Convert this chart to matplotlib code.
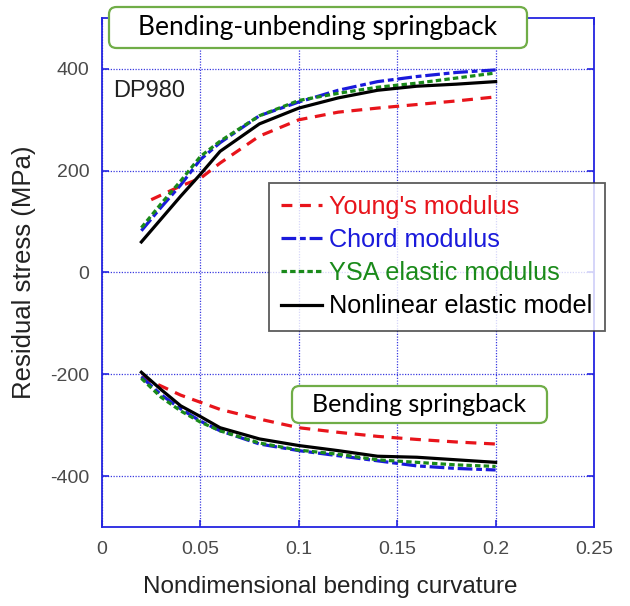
import numpy as np
import matplotlib.pyplot as plt
from matplotlib.patches import FancyBboxPatch

plt.rcParams['font.family'] = ['Liberation Sans', 'DejaVu Sans']
plt.rcParams['axes.unicode_minus'] = False

# curvature points
x_up = [0.02, 0.03, 0.04, 0.05, 0.06, 0.08, 0.10, 0.12, 0.14, 0.16, 0.18, 0.20]
x_red_up = [0.025, 0.03, 0.04, 0.05, 0.06, 0.08, 0.10, 0.12, 0.14, 0.16, 0.18, 0.20]
x_dn = [0.02, 0.03, 0.04, 0.05, 0.06, 0.08, 0.10, 0.12, 0.14, 0.16, 0.18, 0.20]

# bending-unbending springback (upper branch)
young_up = [143, 152, 170, 185, 215, 268, 300, 315, 323, 330, 337, 345]
chord_up = [82, 128, 172, 222, 255, 308, 335, 358, 375, 385, 393, 398]
ysa_up = [88, 135, 180, 228, 258, 308, 338, 352, 364, 372, 382, 392]
nonlin_up = [60, 105, 150, 193, 238, 292, 323, 343, 358, 366, 370, 375]

# bending springback (lower branch)
young_dn = [-205, -223, -241, -255, -269, -288, -305, -314, -322, -328, -333, -337]
chord_dn = [-205, -240, -268, -292, -311, -337, -350, -360, -370, -380, -385, -388]
ysa_dn = [-208, -245, -272, -294, -311, -335, -349, -357, -368, -373, -378, -381]
nonlin_dn = [-196, -230, -262, -283, -305, -327, -340, -350, -361, -363, -368, -373]

labels = ["Young's modulus", "Chord modulus", "YSA elastic modulus", "Nonlinear elastic model"]
colors = ['#e8141b', '#1a1adb', '#1a8a1a', 'black']

fig = plt.figure(figsize=(6.3, 6.06), dpi=100)
ax = fig.add_axes([0.1619, 0.1304, 0.781, 0.8399])

lw = 2.3
styles = [dict(dashes=(3.4, 2.4)), dict(dashes=(4.6, 1.2, 1.8, 1.2)),
          dict(dashes=(1.7, 1.0)), dict(linestyle='-')]

series = [(x_red_up, young_up, x_dn, young_dn),
          (x_up, chord_up, x_dn, chord_dn),
          (x_up, ysa_up, x_dn, ysa_dn),
          (x_up, nonlin_up, x_dn, nonlin_dn)]

handles = []
for (xu, yu, xd, yd), lab, c, st in zip(series, labels, colors, styles):
    h, = ax.plot(xu, yu, color=c, lw=lw, label=lab, **st)
    ax.plot(xd, yd, color=c, lw=lw, **st)
    handles.append(h)

ax.set_xlim(0, 0.25)
ax.set_ylim(-500, 500)
ax.set_xticks([0, 0.05, 0.1, 0.15, 0.2, 0.25])
ax.set_xticklabels(['0', '0.05', '0.1', '0.15', '0.2', '0.25'])
ax.set_yticks([-400, -200, 0, 200, 400])
ax.grid(True, color='#3a3ae0', linestyle=(0, (1, 1.2)), linewidth=0.9)

for s in ax.spines.values():
    s.set_color('#2424e0')
    s.set_linewidth(1.3)
ax.tick_params(direction='in', length=5, width=1.2, color='#2424e0',
               top=True, right=True, labelsize=14, labelcolor='#4a4a4a')
ax.tick_params(axis='y', pad=9)
ax.tick_params(axis='x', pad=10)

ax.set_xlabel('Nondimensional bending curvature', fontsize=17.5, color='#222222')
ax.xaxis.set_label_coords(0.464, -0.097)
ax.set_ylabel('Residual stress (MPa)', fontsize=18.5, color='#222222', labelpad=10)

ax.text(0.022, 0.857, 'DP980', transform=ax.transAxes, fontsize=17, color='#222222', va='center')

leg = fig.legend(handles=handles, labels=labels, loc='upper left',
                 bbox_to_anchor=(269 / 630, 1 - 183 / 606), fontsize=18.2,
                 frameon=True, fancybox=False, handlelength=1.6, handletextpad=0.3,
                 labelspacing=0.36, borderpad=0.48, borderaxespad=0)
leg.get_frame().set_edgecolor('#333333')
leg.get_frame().set_linewidth(1.3)
for t, c in zip(leg.get_texts(), colors):
    t.set_color(c)

# rounded callout boxes
def callout(x0, y0, x1, y1, text, size):
    w, h = (x1 - x0) / 630, (y1 - y0) / 606
    box = FancyBboxPatch((x0 / 630, 1 - y1 / 606), w, h,
                         boxstyle='round,pad=0,rounding_size=0.012',
                         transform=fig.transFigure, facecolor='white',
                         edgecolor='#70ad47', linewidth=1.6, zorder=5)
    fig.add_artist(box)
    fig.text((x0 + x1) / 2 / 630, 1 - (y0 + y1) / 2 / 606, text, ha='center', va='center',
             fontsize=size, family=['Lato', 'DejaVu Sans'], color='black', zorder=6)

callout(109, 7, 527, 48, 'Bending-unbending springback', 19)
callout(292, 386, 547, 423, 'Bending springback', 18)

fig.savefig('out.png', dpi=100)
